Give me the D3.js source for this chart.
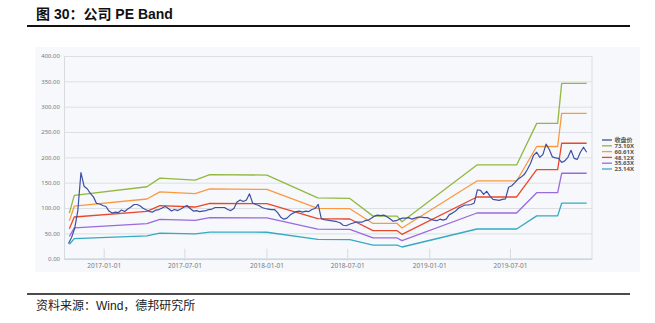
<!DOCTYPE html>
<html>
<head>
<meta charset="utf-8">
<script src="https://cdn.jsdelivr.net/npm/d3@7"></script>
<style>
  html, body { margin: 0; padding: 0; background: #ffffff; }
  svg { display: block; }
</style>
</head>
<body>
<svg id="chart" width="655" height="323"></svg>
<script>
// ---------------- DATA ----------------
const titleText = "图 30：公司 PE Band";
const sourceText = "资料来源：Wind，德邦研究所";

const yTicks = [0, 50, 100, 150, 200, 250, 300, 350, 400];
const xTicks = ["2017-01-01", "2017-07-01", "2018-01-01", "2018-07-01", "2019-01-01", "2019-07-01"];

const seriesNames = ["收盘价", "73.10X", "60.61X", "48.12X", "35.63X", "23.14X"];

// Band break dates
const bandDates = ["2016-10-16", "2016-10-27", "2017-04-08", "2017-05-07", "2017-07-25", "2017-08-27",
  "2018-01-02", "2018-04-26", "2018-07-07", "2018-08-28", "2018-10-21", "2018-11-01",
  "2019-04-18", "2019-07-16", "2019-08-30", "2019-10-16", "2019-10-25", "2019-12-20"];

const band7310 = [90, 125, 142, 159, 155, 166, 165, 120, 119, 84, 84, 73, 185, 185, 267, 267, 346, 346];
const band6061 = [74.6, 103.6, 117.8, 131.8, 128.5, 137.6, 136.8, 99.5, 98.7, 69.6, 69.6, 60.5, 153.4, 153.4, 221.4, 221.4, 286.9, 286.9];
const band4812 = [59.2, 82.3, 93.5, 104.7, 102.0, 109.3, 108.6, 79.0, 78.3, 55.3, 55.3, 48.1, 121.8, 121.8, 175.8, 175.8, 227.8, 227.8];
const band3563 = [43.9, 60.9, 69.2, 77.5, 75.5, 80.9, 80.4, 58.5, 58.0, 40.9, 40.9, 35.6, 90.2, 90.2, 130.2, 130.2, 168.6, 168.6];
const band2314 = [28.5, 39.6, 45.0, 50.3, 49.1, 52.6, 52.2, 38.0, 37.7, 26.6, 26.6, 23.1, 58.6, 58.6, 84.5, 84.5, 109.5, 109.5];

// Weekly closing price, first week 2016-10-14
const priceStart = "2016-10-14";
const priceStepDays = 7;
const price = [
  30, 42, 60, 95, 170, 143, 138, 129, 122, 109, 108, 105, 103, 94, 90, 92, 91, 96, 93, 98,
  102, 107, 107, 104, 99, 96, 93, 92, 96, 97, 100, 103, 99, 94, 97, 95, 98, 102, 105, 99,
  94, 95, 93, 94, 95, 97, 98, 101, 101, 101, 101, 97, 95, 99, 112, 116, 113, 116, 128, 110,
  107, 105, 101, 99, 98, 97, 97, 91, 82, 78, 80, 86, 90, 93, 94, 92, 94, 93, 97, 99,
  107, 79, 77, 76, 75, 74, 73, 71, 66, 65, 68, 70, 72, 72, 72, 75, 76, 80, 84, 86,
  85, 86, 83, 79, 74, 75, 78, 80, 80, 81, 78, 80, 82, 82, 81, 81, 78, 76, 75, 78,
  76, 78, 87, 90, 94, 100, 103, 106, 106, 107, 110, 136, 135, 127, 133, 124, 117, 116, 115, 117,
  118, 141, 144, 150, 157, 161, 166, 176, 188, 204, 210, 200, 206, 226, 216, 201, 199, 198, 190, 193,
  200, 214, 198, 196, 210, 220, 210
];

const colors = ["#3d4fa3", "#93b83f", "#f99a40", "#e9472b", "#9a6adc", "#36a9c3"];

// ---------------- DRAW ----------------
const svg = d3.select("#chart");
const parse = d3.timeParse("%Y-%m-%d");

// outer panel background
svg.append("rect").attr("x", 35).attr("y", 47).attr("width", 605).attr("height", 225)
  .attr("fill", "#f6f8fb");

// title & rules
svg.append("text").attr("x", 36).attr("y", 19)
  .attr("font-family", "'Liberation Sans', 'Noto Sans CJK SC', sans-serif")
  .attr("font-size", 14).attr("font-weight", "bold").attr("fill", "#111")
  .text(titleText);
svg.append("line").attr("x1", 27).attr("x2", 630).attr("y1", 26).attr("y2", 26)
  .attr("stroke", "#111").attr("stroke-width", 2);
svg.append("line").attr("x1", 27).attr("x2", 630).attr("y1", 294).attr("y2", 294)
  .attr("stroke", "#111").attr("stroke-width", 1.3);
svg.append("text").attr("x", 36).attr("y", 310)
  .attr("font-family", "'Liberation Sans', 'Noto Sans CJK SC', sans-serif")
  .attr("font-size", 12).attr("fill", "#222")
  .text(sourceText);

const x = d3.scaleTime().domain([parse("2016-10-04"), parse("2020-01-01")]).range([64, 592]);
const y = d3.scaleLinear().domain([0, 400]).range([258.7, 56]);

// gridlines (y axis)
const yAxis = d3.axisLeft(y).tickValues(yTicks).tickSize(-(592 - 64)).tickPadding(4)
  .tickFormat(d3.format(".2f"));
const gy = svg.append("g").attr("transform", "translate(64,0)").call(yAxis);
gy.select(".domain").attr("stroke", "#d6dbe2");
gy.selectAll(".tick line").attr("stroke", "#dcdfe4").attr("stroke-width", 1);
gy.selectAll(".tick text").attr("font-family", "'Noto Sans', sans-serif").attr("font-size", 6)
  .attr("fill", "#7a7a7a");

// right border
svg.append("line").attr("x1", 592).attr("x2", 592).attr("y1", 56).attr("y2", 258.7)
  .attr("stroke", "#dcdfe4");

// x axis
const xAxis = d3.axisBottom(x).tickValues(xTicks.map(parse)).tickSize(0).tickPadding(5)
  .tickFormat(d3.timeFormat("%Y-%m-%d"));
const gx = svg.append("g").attr("transform", "translate(0,258.7)").call(xAxis);
gx.select(".domain").attr("stroke", "#c6d3e3");
gx.selectAll(".tick text").attr("font-family", "'Noto Sans', sans-serif").attr("font-size", 6.5)
  .attr("fill", "#7a7a7a");
gx.selectAll(".tick").append("line").attr("y1", -10).attr("y2", 2).attr("stroke", "#d6dbe2");

// series
const bandDatesParsed = bandDates.map(parse);
const bands = [band7310, band6061, band4812, band3563, band2314];
const line = d3.line().x(d => x(d[0])).y(d => y(d[1]));

bands.forEach((b, i) => {
  svg.append("path")
    .datum(b.map((v, j) => [bandDatesParsed[j], v]))
    .attr("d", line).attr("fill", "none")
    .attr("stroke", colors[i + 1]).attr("stroke-width", 1.3)
    .attr("stroke-linejoin", "round");
});

const p0 = parse(priceStart);
const priceData = price.map((v, i) => [d3.timeDay.offset(p0, i * priceStepDays), v]);
svg.append("path").datum(priceData).attr("d", line).attr("fill", "none")
  .attr("stroke", colors[0]).attr("stroke-width", 1.2).attr("stroke-linejoin", "round");

// legend
const lg = svg.append("g").attr("transform", "translate(602,140)");
seriesNames.forEach((n, i) => {
  const g = lg.append("g").attr("transform", `translate(0,${i * 5.8})`);
  g.append("line").attr("x1", 0).attr("x2", 10).attr("stroke", colors[i]).attr("stroke-width", 1.3);
  g.append("text").attr("x", 12.5).attr("dy", "0.35em")
    .attr("font-family", "'Noto Sans', 'Noto Sans CJK SC', sans-serif")
    .attr("font-size", 6).attr("font-weight", "bold").attr("fill", "#555")
    .text(n);
});
</script>
</body>
</html>
